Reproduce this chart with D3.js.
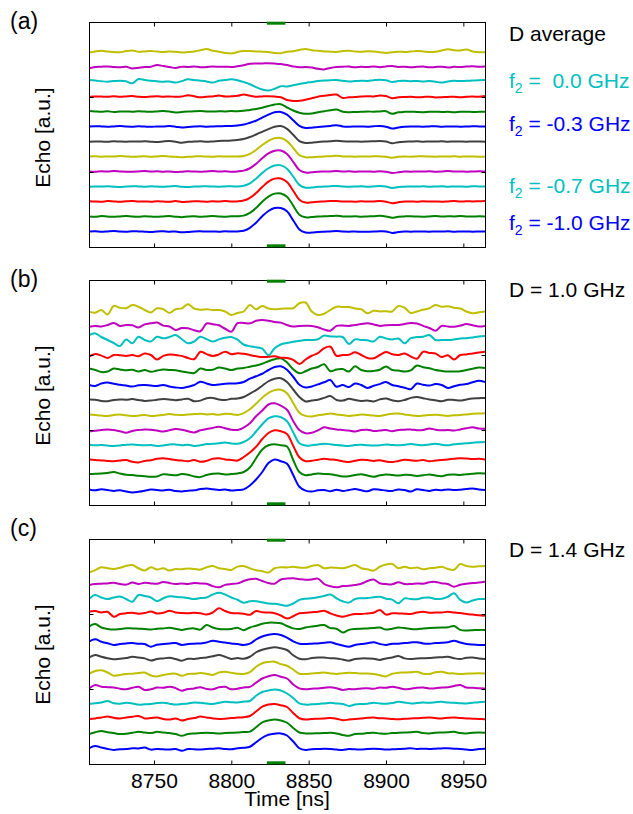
<!DOCTYPE html>
<html>
<head>
<meta charset="utf-8">
<script src="https://cdn.jsdelivr.net/npm/d3@7"></script>
<style>
  body { margin: 0; background: #fff; }
  svg { display: block; }
  text { font-family: "Liberation Sans", Arial, sans-serif; fill: #000; }
</style>
</head>
<body>
<svg id="chart" width="633" height="814"></svg>
<script>
// Sample times of every echo trace (ns)
const timeNs = [
  8708, 8712, 8716, 8720, 8724, 8728, 8732, 8736, 8740, 8744,
  8748, 8752, 8756, 8760, 8764, 8768, 8772, 8776, 8780, 8784,
  8788, 8792, 8796, 8800, 8804, 8808, 8812, 8816, 8820, 8824,
  8828, 8832, 8836, 8840, 8844, 8848, 8852, 8856, 8860, 8864,
  8868, 8872, 8876, 8880, 8884, 8888, 8892, 8896, 8900, 8904,
  8908, 8912, 8916, 8920, 8924, 8928, 8932, 8936, 8940, 8944,
  8948, 8952, 8956, 8960, 8964
];

// Trace colours, bottom trace first
const traceColors = ["#0000FF", "#008000", "#FF0000", "#00BFBF", "#BF00BF", "#BFBF00", "#404040",
                     "#0000FF", "#008000", "#FF0000", "#00BFBF", "#BF00BF", "#BFBF00"];
// Vertical offset of each trace (bottom trace first)
const traceOffsets = [1, 2, 3, 4, 5, 6, 7, 8, 9, 10, 11, 12, 13];

const xDomain = [8708, 8964];
const yDomain = [0, 15];
const xTicks = [8750, 8800, 8850, 8900, 8950];
const yTicks = [5, 10];
const pulseWindow = [8823, 8835];

const panelLetters = ["(a)", "(b)", "(c)"];
const panelTitles = ["D average", "D = 1.0 GHz", "D = 1.4 GHz"];
const legendValues = [" 0.0", "-0.3", "-0.7", "-1.0"];
const legendTraces = [10, 7, 3, 0];

// (a) detuning-averaged echoes
const echoA = [
  [0.03, 0.05, 0.02, 0.04, 0.06, 0.03, 0.02, 0.05, 0.04, 0.02,
   0.0, 0.04, 0.05, 0.02, 0.03, -0.02, 0.0, 0.04, 0.05, 0.03,
   0.04, 0.02, 0.05, 0.03, 0.04, 0.08, 0.28, 0.62, 1.05, 1.4,
   1.6, 1.6, 1.38, 0.78, 0.17, -0.03, -0.04, 0.0, 0.02, 0.04,
   0.06, 0.03, 0.02, 0.03, 0.01, 0.02, 0.03, 0.05, 0.04, -0.06,
   0.0, 0.03, 0.02, 0.04, 0.03, 0.02, 0.04, 0.03, 0.05, 0.02,
   0.03, 0.04, 0.02, 0.03, 0.04],
  [0.04, 0.02, 0.06, 0.03, 0.01, 0.04, 0.07, 0.03, 0.02, 0.05,
   0.03, 0.01, 0.04, 0.06, 0.02, -0.01, 0.03, 0.05, 0.02, 0.04,
   0.06, 0.03, 0.02, 0.05, 0.05, 0.09, 0.27, 0.6, 1.02, 1.36,
   1.56, 1.57, 1.35, 0.76, 0.15, -0.02, 0.0, 0.03, 0.05, 0.06,
   0.08, 0.04, 0.03, 0.05, 0.02, 0.04, 0.05, 0.08, 0.04, -0.05,
   0.02, 0.04, 0.05, 0.03, 0.02, 0.04, 0.06, 0.03, 0.05, 0.04,
   0.06, 0.04, 0.03, 0.05, 0.04],
  [0.05, 0.03, 0.02, 0.06, 0.04, 0.02, 0.05, 0.07, 0.03, 0.04,
   0.02, 0.05, 0.03, 0.01, 0.06, 0.0, 0.02, 0.05, 0.04, 0.02,
   0.05, 0.03, 0.06, 0.03, 0.04, 0.1, 0.28, 0.6, 1.0, 1.36,
   1.56, 1.57, 1.33, 0.75, 0.15, -0.04, -0.02, 0.02, 0.04, 0.07,
   0.06, 0.03, 0.04, 0.02, 0.05, 0.03, 0.04, 0.06, 0.02, -0.08,
   -0.02, 0.03, 0.04, 0.02, 0.05, 0.03, 0.04, 0.02, 0.04, 0.06,
   0.03, 0.05, 0.04, 0.05, 0.06],
  [0.02, 0.04, 0.03, 0.05, 0.02, 0.0, 0.03, 0.05, 0.04, 0.02,
   0.05, 0.03, 0.01, 0.04, 0.06, 0.02, 0.0, 0.03, 0.04, 0.05,
   0.03, 0.02, 0.04, 0.05, 0.03, 0.08, 0.24, 0.55, 0.94, 1.25,
   1.43, 1.44, 1.22, 0.7, 0.14, -0.05, -0.03, 0.01, 0.03, 0.05,
   0.07, 0.04, 0.02, 0.03, 0.05, 0.02, 0.04, 0.06, 0.03, -0.06,
   0.0, 0.02, 0.04, 0.03, 0.05, 0.02, 0.03, 0.05, 0.02, 0.04,
   0.03, 0.02, 0.05, 0.04, 0.03],
  [0.04, 0.02, 0.05, 0.03, 0.06, 0.04, 0.02, 0.01, 0.04, 0.06,
   0.03, 0.05, 0.02, 0.04, 0.0, 0.02, 0.05, 0.03, 0.02, 0.04,
   0.06, 0.03, 0.05, 0.02, 0.04, 0.09, 0.25, 0.54, 0.92, 1.24,
   1.42, 1.43, 1.2, 0.68, 0.13, -0.04, -0.02, 0.02, 0.03, 0.04,
   0.06, 0.03, 0.05, 0.02, 0.03, 0.04, 0.02, 0.05, 0.02, -0.07,
   -0.02, 0.03, 0.02, 0.04, 0.03, 0.05, 0.02, 0.03, 0.06, 0.03,
   0.04, 0.02, 0.03, 0.05, 0.03],
  [0.03, 0.05, 0.02, 0.04, 0.03, 0.06, 0.04, 0.01, 0.03, 0.05,
   0.02, 0.04, 0.06, 0.03, 0.01, -0.02, 0.02, 0.04, 0.05, 0.03,
   0.02, 0.05, 0.03, 0.04, 0.03, 0.07, 0.21, 0.47, 0.8, 1.08,
   1.25, 1.26, 1.06, 0.6, 0.12, -0.02, -0.01, 0.02, 0.04, 0.05,
   0.08, 0.04, 0.03, 0.02, 0.04, 0.03, 0.05, 0.04, 0.02, -0.05,
   0.01, 0.03, 0.02, 0.04, 0.05, 0.03, 0.02, 0.04, 0.03, 0.05,
   0.02, 0.04, 0.03, 0.02, 0.04],
  [0.02, 0.04, 0.03, 0.01, 0.05, 0.03, 0.02, 0.04, 0.03, 0.05,
   0.02, 0.0, 0.04, 0.06, 0.02, -0.05, 0.01, 0.03, 0.05, 0.02,
   0.04, 0.07, 0.08, 0.1, 0.14, 0.2, 0.33, 0.5, 0.68, 0.86,
   1.02, 1.06, 0.88, 0.48, 0.06, -0.06, -0.05, 0.0, 0.03, 0.05,
   0.09, 0.05, 0.03, 0.04, 0.02, 0.04, 0.05, 0.06, 0.03, -0.08,
   -0.01, 0.02, 0.03, 0.05, 0.02, 0.04, 0.03, 0.05, 0.02, 0.04,
   0.03, 0.02, 0.04, 0.03, 0.02],
  [0.03, 0.05, 0.04, 0.02, 0.04, 0.06, 0.03, 0.02, 0.05, 0.03,
   0.01, 0.04, 0.03, 0.06, 0.02, -0.04, 0.0, 0.03, 0.05, 0.02,
   0.04, 0.05, 0.06, 0.07, 0.1, 0.16, 0.28, 0.42, 0.62, 0.82,
   0.98, 1.0, 0.82, 0.45, 0.08, -0.06, -0.05, 0.0, 0.04, 0.07,
   0.12, 0.04, 0.02, 0.03, 0.04, 0.02, 0.05, 0.07, 0.02, -0.1,
   -0.03, 0.02, 0.04, 0.03, 0.02, 0.04, 0.05, 0.02, 0.03, 0.04,
   0.02, 0.03, 0.05, 0.04, 0.03],
  [0.06, 0.04, 0.02, 0.05, 0.0, 0.03, 0.04, 0.02, 0.05, 0.03,
   0.01, 0.04, 0.06, 0.03, -0.03, 0.0, 0.03, 0.05, 0.06, 0.04,
   0.03, 0.05, 0.04, 0.06, 0.05, 0.08, 0.14, 0.2, 0.28, 0.4,
   0.5, 0.52, 0.3, 0.1, -0.05, -0.12, -0.1, -0.02, 0.05, 0.12,
   0.16, 0.02, -0.01, 0.0, 0.01, 0.03, 0.02, 0.04, 0.05, -0.12,
   -0.02, 0.01, 0.02, 0.0, -0.01, 0.01, 0.02, 0.0, 0.01, -0.02,
   0.01, 0.02, 0.0, 0.01, 0.02],
  [0.02, 0.04, 0.03, 0.01, 0.05, 0.02, 0.04, 0.06, 0.02, 0.0,
   0.03, 0.05, 0.02, 0.04, 0.01, 0.03, 0.12, 0.05, -0.02, 0.02,
   0.04, 0.1, 0.03, 0.05, 0.08, 0.16, 0.08, 0.02, 0.04, 0.05,
   0.03, -0.02, -0.2, -0.26, -0.25, -0.18, -0.08, 0.02, 0.08, 0.14,
   0.16, -0.06, -0.02, 0.0, 0.03, 0.05, 0.04, 0.1, 0.06, -0.08,
   -0.02, 0.0, 0.01, -0.02, 0.0, 0.02, -0.03, -0.01, 0.0, 0.02,
   -0.02, 0.01, 0.03, 0.02, 0.06],
  [0.13, 0.1, 0.05, 0.02, 0.06, 0.09, 0.05, -0.09, 0.2, 0.14,
   0.09, 0.05, 0.02, 0.04, -0.04, 0.06, 0.18, 0.13, 0.09, 0.04,
   -0.04, 0.08, 0.13, 0.18, 0.12, 0.0, -0.15, -0.34, -0.5, -0.56,
   -0.45, -0.28, -0.3, -0.22, -0.13, -0.06, 0.0, 0.06, 0.1, 0.12,
   0.13, 0.08, 0.04, 0.06, 0.09, 0.07, 0.12, 0.15, 0.11, 0.0,
   0.06, 0.08, 0.05, 0.07, 0.03, 0.06, 0.02, -0.04, 0.04, 0.08,
   0.06, 0.08, 0.1, 0.12, 0.13],
  [-0.09, 0.0, 0.02, 0.04, 0.0, -0.02, 0.02, -0.1, -0.05, 0.0,
   0.02, 0.13, 0.06, 0.0, -0.06, 0.02, 0.0, 0.04, -0.02, 0.0,
   0.03, 0.01, 0.02, 0.0, 0.05, 0.12, 0.22, 0.24, 0.24, 0.25,
   0.23, 0.2, 0.13, 0.04, -0.02, 0.0, -0.04, -0.12, -0.16, -0.06,
   0.0, 0.02, 0.03, -0.02, 0.01, 0.0, 0.03, -0.01, 0.04, 0.06,
   0.0, 0.02, -0.01, 0.01, 0.03, -0.02, 0.0, 0.02, -0.03, 0.01,
   0.0, 0.03, 0.05, 0.02, 0.04],
  [-0.04, 0.04, 0.08, 0.03, 0.0, -0.02, 0.06, 0.1, 0.02, 0.04,
   0.06, 0.03, 0.0, 0.04, 0.01, -0.03, 0.0, 0.04, 0.12, 0.2,
   0.08, 0.02, -0.06, -0.1, 0.0, 0.06, 0.07, 0.04, 0.02, 0.0,
   -0.06, -0.08, 0.02, 0.05, 0.14, 0.2, 0.12, 0.08, 0.04, 0.02,
   0.0, 0.06, 0.08, 0.04, 0.02, 0.05, 0.03, -0.01, -0.06, -0.02,
   0.02, 0.0, 0.03, 0.06, 0.04, 0.0, 0.02, 0.1, 0.18, 0.12,
   0.1, 0.16, 0.04, -0.01, -0.02]
];

// (b) D = 1.0 GHz
const echoB = [
  [0.04, -0.02, 0.05, 0.0, -0.06, -0.02, -0.1, -0.16, -0.12, -0.05,
   0.04, 0.0, -0.03, 0.02, -0.07, -0.1, -0.05, -0.02, 0.06, 0.1,
   0.05, 0.0, 0.03, -0.04, 0.0, 0.04, 0.3, 0.7, 1.2, 1.8,
   2.04, 1.92, 1.75, 1.0, 0.22, -0.04, -0.1, -0.02, 0.0, -0.08,
   0.02, -0.06, 0.0, 0.06, -0.02, -0.08, 0.05, 0.02, -0.04, -0.06,
   0.04, 0.0, -0.1, 0.05, 0.0, -0.06, 0.02, -0.02, 0.04, 0.0,
   0.02, 0.06, 0.1, 0.04, 0.0],
  [0.06, 0.08, 0.1, 0.14, 0.2, 0.1, 0.02, 0.0, -0.05, -0.08,
   -0.12, -0.1, 0.05, 0.02, -0.02, 0.06, 0.02, -0.1, -0.14, 0.0,
   0.08, 0.1, 0.04, 0.06, 0.1, 0.2, 0.5, 1.12, 1.7, 1.98,
   2.05, 1.98, 1.9, 1.0, 0.2, -0.02, 0.04, 0.1, 0.07, 0.05,
   -0.02, -0.1, -0.08, 0.0, 0.05, -0.04, -0.12, -0.02, 0.04, 0.0,
   -0.04, 0.02, 0.0, -0.06, -0.02, 0.04, -0.04, -0.08, 0.02, 0.04,
   0.0, 0.05, 0.08, 0.12, 0.1],
  [0.04, 0.0, -0.03, -0.06, -0.08, -0.04, 0.0, -0.12, -0.16, -0.06,
   -0.02, 0.08, 0.12, 0.06, 0.0, -0.04, -0.08, 0.0, -0.12, -0.06,
   0.08, 0.12, 0.04, 0.0, -0.04, 0.2, 0.5, 0.88, 1.4, 1.8,
   1.98, 1.92, 1.74, 0.95, 0.18, -0.08, -0.05, 0.02, 0.08, 0.04,
   0.0, -0.08, -0.14, -0.05, 0.02, 0.0, -0.06, -0.02, -0.1, -0.14,
   -0.06, 0.02, -0.02, -0.05, 0.0, -0.08, -0.04, 0.0, 0.04, 0.08,
   0.12, 0.1, 0.06, 0.08, 0.04],
  [0.02, -0.02, 0.0, -0.04, -0.06, -0.03, 0.02, 0.04, 0.0, -0.02,
   0.0, -0.06, -0.04, 0.03, 0.04, -0.02, 0.02, -0.06, -0.02, 0.06,
   0.08, 0.12, 0.16, 0.1, 0.08, 0.2, 0.45, 0.9, 1.38, 1.78,
   1.92, 1.86, 1.58, 0.85, 0.12, -0.04, -0.02, 0.04, 0.08, 0.05,
   0.0, -0.04, -0.06, 0.0, 0.02, -0.02, -0.04, -0.02, 0.04, 0.0,
   -0.02, 0.02, 0.06, 0.02, -0.02, 0.04, 0.08, 0.02, -0.02, 0.05,
   0.08, 0.12, 0.15, 0.18, 0.2],
  [-0.1, -0.05, 0.0, 0.04, 0.0, -0.08, -0.18, -0.06, 0.0, 0.04,
   0.02, -0.04, -0.1, -0.02, 0.06, 0.02, -0.08, -0.16, -0.02, 0.06,
   0.14, 0.22, 0.12, 0.02, 0.0, 0.16, 0.45, 0.92, 1.3, 1.7,
   1.78, 1.62, 1.35, 0.6, 0.0, -0.22, -0.18, -0.02, 0.18, 0.1,
   0.04, 0.0, -0.04, -0.1, 0.0, 0.02, -0.06, -0.04, 0.0, -0.08,
   0.0, 0.02, 0.04, -0.02, 0.0, 0.1, 0.02, -0.02, 0.0, -0.04,
   0.04, 0.12, 0.18, 0.1, 0.08],
  [0.04, 0.0, -0.04, -0.06, 0.0, 0.04, -0.02, -0.06, -0.04, 0.0,
   -0.06, -0.04, 0.0, 0.06, 0.02, 0.0, 0.04, 0.06, 0.08, 0.04,
   0.06, 0.02, 0.08, 0.06, 0.0, 0.12, 0.38, 0.75, 1.15, 1.48,
   1.66, 1.68, 1.45, 0.8, 0.15, -0.06, -0.1, -0.02, 0.04, 0.1,
   0.04, 0.0, -0.06, -0.02, 0.04, 0.0, -0.04, -0.06, 0.02, 0.08,
   0.1, 0.04, -0.02, -0.06, -0.04, 0.0, 0.02, -0.02, -0.06, -0.02,
   0.0, 0.04, 0.08, 0.1, 0.12],
  [0.04, 0.02, -0.06, -0.08, 0.0, 0.04, 0.02, 0.06, 0.0, -0.06,
   -0.04, 0.02, 0.06, 0.04, -0.02, 0.04, 0.08, -0.08, -0.04, 0.12,
   0.14, 0.04, 0.0, 0.08, 0.1, 0.2, 0.42, 0.66, 0.95, 1.25,
   1.42, 1.45, 1.2, 0.7, 0.2, -0.1, -0.04, 0.02, 0.14, 0.26,
   0.0, -0.04, 0.08, 0.0, -0.06, -0.04, -0.1, 0.04, 0.1, -0.02,
   -0.08, 0.0, 0.14, 0.2, 0.12, 0.04, -0.02, -0.08, 0.02, 0.0,
   -0.04, 0.04, 0.1, 0.12, 0.14],
  [0.0, -0.06, 0.1, 0.16, 0.08, 0.02, -0.04, -0.1, -0.02, 0.0,
   -0.04, -0.06, 0.0, -0.1, -0.16, -0.2, -0.12, 0.0, 0.22, 0.1,
   0.0, 0.04, 0.08, 0.1, 0.12, 0.2, 0.42, 0.58, 0.75, 1.0,
   1.2, 1.25, 1.02, 0.55, 0.02, -0.16, -0.1, 0.04, 0.18, 0.33,
   -0.12, 0.0, -0.14, 0.1, 0.0, -0.2, -0.05, 0.06, 0.2, 0.0,
   -0.08, -0.18, -0.28, 0.1, 0.02, -0.04, 0.06, 0.0, -0.2, -0.08,
   0.02, 0.06, 0.18, 0.28, 0.2],
  [0.1, 0.0, -0.14, -0.1, 0.1, 0.04, -0.02, 0.02, -0.1, 0.0,
   -0.12, -0.04, 0.04, 0.0, -0.02, -0.1, -0.16, -0.2, 0.1, 0.0,
   0.02, 0.16, 0.1, 0.0, 0.1, 0.14, 0.22, 0.3, 0.42, 0.58,
   0.72, 0.78, 0.5, 0.05, -0.22, -0.08, 0.1, 0.2, 0.38, -0.08,
   0.04, 0.06, -0.1, 0.25, 0.0, -0.08, -0.06, 0.02, 0.24, 0.0,
   -0.04, -0.1, -0.02, 0.3, 0.18, 0.12, 0.0, -0.06, -0.1, -0.1,
   -0.08, 0.0, 0.08, 0.16, 0.14],
  [-0.1, 0.06, -0.04, -0.2, 0.0, -0.02, -0.06, 0.0, -0.08, 0.1,
   0.0, -0.3, -0.06, 0.04, 0.0, -0.06, -0.2, -0.28, 0.22, 0.06,
   -0.06, 0.04, 0.22, 0.05, 0.12, 0.08, 0.0, -0.08, -0.14, -0.12,
   -0.08, -0.18, -0.2, -0.32, -0.6, -0.3, -0.05, 0.12, 0.45, 0.55,
   -0.05, 0.0, 0.02, 0.18, 0.0, -0.2, -0.22, 0.0, 0.2, 0.05,
   0.0, 0.1, -0.1, -0.25, 0.22, 0.14, 0.1, -0.14, -0.02, -0.3,
   0.0, 0.04, 0.1, 0.16, 0.22],
  [0.33, 0.44, 0.2, 0.0, -0.2, -0.4, 0.04, -0.22, 0.22, 0.0,
   -0.1, 0.22, 0.11, 0.2, 0.33, 0.05, -0.22, -0.1, 0.22, 0.06,
   -0.1, 0.04, 0.15, 0.2, 0.02, -0.3, -0.42, -0.48, -0.58, -1.02,
   -0.55, -0.3, -0.2, -0.12, -0.05, 0.0, 0.0, 0.05, 0.3, 0.24,
   0.22, 0.2, -0.27, 0.04, 0.0, -0.02, -0.1, 0.22, 0.1, 0.04,
   0.1, -0.22, 0.12, 0.2, 0.22, 0.33, 0.0, 0.0, 0.0, 0.04,
   0.1, 0.12, 0.16, 0.24, 0.27],
  [-0.11, -0.06, -0.1, 0.0, 0.14, -0.06, 0.0, -0.02, -0.16, 0.04,
   0.11, 0.16, -0.04, -0.1, -0.33, -0.2, -0.22, -0.35, -0.42, 0.1,
   0.05, -0.02, -0.25, -0.44, 0.12, 0.14, 0.11, 0.28, 0.33, 0.29,
   0.2, 0.16, 0.0, -0.1, -0.06, -0.05, -0.06, -0.15, -0.3, -0.38,
   -0.06, -0.04, -0.06, 0.0, 0.06, 0.11, 0.04, -0.06, -0.02, 0.0,
   0.0, 0.06, 0.14, 0.1, -0.06, -0.2, -0.38, -0.06, -0.1, -0.12,
   -0.04, 0.06, -0.02, -0.1, -0.06],
  [-0.11, -0.18, 0.0, -0.3, 0.27, 0.15, 0.12, 0.33, 0.22, 0.0,
   -0.16, 0.11, 0.05, -0.2, 0.05, 0.11, 0.38, 0.1, 0.02, 0.05,
   0.0, 0.0, -0.1, -0.33, -0.2, -0.1, 0.33, 0.05, 0.27, 0.1,
   0.05, 0.08, 0.1, 0.12, 0.45, 0.5, -0.1, -0.33, -0.25, 0.0,
   0.22, 0.2, 0.2, 0.1, 0.05, -0.22, -0.05, -0.1, -0.08, -0.1,
   0.27, 0.15, -0.2, -0.1, 0.02, 0.12, 0.33, 0.22, 0.25, 0.15,
   0.1, -0.1, -0.22, -0.15, -0.1]
];

// (c) D = 1.4 GHz
const echoC = [
  [0.05, 0.2, 0.1, 0.0, -0.06, -0.02, 0.0, 0.05, 0.04, 0.1,
   -0.04, 0.0, -0.02, -0.04, 0.0, -0.12, 0.0, -0.02, -0.04, 0.0,
   0.02, 0.05, 0.0, -0.02, 0.05, 0.08, 0.15, 0.45, 0.75, 0.95,
   1.02, 1.04, 0.9, 0.5, 0.05, -0.06, -0.02, 0.0, 0.02, 0.0,
   -0.04, -0.06, 0.0, -0.02, -0.04, 0.0, 0.02, 0.0, -0.04, -0.02,
   0.0, 0.02, 0.05, 0.0, 0.02, 0.0, 0.02, 0.04, 0.05, 0.02,
   0.0, -0.04, -0.06, 0.0, 0.02],
  [0.0, 0.12, 0.2, 0.12, 0.06, 0.0, 0.02, 0.08, 0.15, 0.1,
   0.06, 0.15, 0.1, 0.06, 0.0, -0.12, 0.0, 0.04, 0.06, 0.08,
   0.06, 0.04, 0.06, 0.08, 0.1, 0.14, 0.16, 0.45, 0.78, 0.9,
   0.97, 0.9, 0.75, 0.4, 0.1, 0.04, 0.04, 0.05, 0.06, 0.08,
   0.04, -0.06, -0.12, 0.0, 0.02, 0.06, 0.08, 0.04, 0.02, 0.06,
   0.08, 0.1, 0.12, 0.15, 0.06, 0.04, 0.08, 0.1, 0.12, 0.15,
   0.06, 0.04, 0.08, 0.1, 0.08],
  [0.0, 0.04, 0.1, 0.16, 0.08, 0.04, 0.1, 0.15, 0.2, 0.04,
   0.06, 0.1, 0.0, -0.04, 0.04, -0.1, 0.0, 0.06, 0.16, 0.1,
   0.04, 0.0, 0.02, 0.06, 0.1, 0.12, 0.2, 0.5, 0.82, 0.96,
   1.0, 0.92, 0.8, 0.4, 0.05, -0.04, 0.0, 0.02, 0.04, 0.06,
   0.02, -0.08, -0.04, 0.0, 0.04, 0.08, 0.1, 0.05, 0.04, 0.0,
   -0.02, 0.02, 0.04, 0.05, 0.08, 0.1, 0.06, 0.04, 0.08, 0.1,
   0.06, 0.04, 0.02, 0.0, -0.02],
  [0.0, 0.05, 0.1, 0.2, 0.05, 0.02, 0.08, 0.04, -0.04, -0.02,
   0.0, 0.06, 0.08, 0.02, -0.04, 0.0, 0.04, 0.1, 0.08, 0.04,
   0.0, 0.08, 0.15, 0.12, 0.1, 0.16, 0.2, 0.55, 0.8, 0.9,
   0.96, 0.9, 0.7, 0.4, 0.04, -0.04, -0.02, 0.0, 0.04, 0.08,
   0.04, 0.0, -0.13, -0.04, 0.0, 0.02, 0.08, 0.04, 0.02, 0.06,
   0.15, 0.1, 0.04, 0.06, 0.1, 0.08, 0.12, 0.15, 0.1, 0.08,
   0.05, 0.04, 0.08, 0.12, 0.15],
  [0.04, 0.27, 0.15, 0.12, 0.1, 0.02, -0.02, 0.08, 0.15, -0.06,
   -0.02, 0.1, 0.08, 0.15, 0.06, -0.11, 0.0, 0.04, 0.12, 0.0,
   -0.02, 0.12, 0.15, -0.02, 0.02, 0.1, 0.14, 0.42, 0.7, 0.85,
   0.93, 0.82, 0.7, 0.3, 0.04, -0.02, 0.02, 0.04, 0.08, 0.12,
   0.05, -0.06, 0.0, -0.02, 0.04, 0.05, 0.02, 0.1, 0.08, 0.15,
   0.08, -0.02, 0.02, 0.08, 0.1, 0.04, 0.05, 0.1, 0.12, 0.2,
   0.27, 0.1, 0.08, 0.05, 0.04],
  [0.0, 0.2, 0.25, 0.1, -0.12, -0.06, 0.0, 0.02, 0.06, 0.1,
   -0.1, -0.16, -0.06, 0.0, 0.02, -0.12, 0.0, 0.02, 0.06, 0.02,
   -0.06, 0.1, 0.15, 0.08, 0.02, 0.0, 0.12, 0.48, 0.72, 0.8,
   0.82, 0.66, 0.55, 0.3, 0.02, 0.0, 0.04, 0.06, 0.1, 0.04,
   0.0, 0.05, 0.08, 0.06, 0.03, 0.04, 0.0, -0.08, -0.16, 0.02,
   0.08, 0.1, 0.12, 0.15, 0.02, 0.0, 0.12, 0.15, 0.05, 0.04,
   0.0, 0.02, 0.04, 0.05, 0.04],
  [0.1, 0.27, 0.15, 0.05, -0.02, 0.02, 0.06, 0.15, 0.1, 0.04,
   -0.1, 0.0, 0.04, 0.08, 0.0, -0.11, 0.02, 0.0, 0.06, 0.1,
   0.18, 0.27, 0.15, 0.0, 0.06, 0.02, 0.15, 0.45, 0.62, 0.72,
   0.78, 0.72, 0.6, 0.25, 0.02, -0.02, 0.06, 0.1, 0.1, 0.05,
   0.04, -0.04, -0.11, 0.0, 0.04, 0.04, 0.02, -0.06, 0.04, 0.1,
   0.2, 0.04, 0.0, 0.04, 0.05, 0.06, 0.1, 0.12, 0.15, 0.05,
   0.0, 0.08, 0.1, 0.04, 0.0],
  [0.16, 0.31, 0.15, 0.05, -0.06, 0.0, 0.04, 0.06, 0.02, 0.0,
   -0.18, -0.05, 0.0, 0.04, 0.06, -0.06, 0.0, 0.02, 0.04, 0.1,
   0.22, 0.15, 0.1, 0.04, 0.0, -0.06, 0.02, 0.3, 0.5, 0.62,
   0.67, 0.6, 0.42, 0.18, 0.02, 0.0, 0.02, 0.04, 0.08, 0.12,
   0.0, -0.1, -0.18, -0.06, 0.0, 0.05, 0.12, 0.0, -0.06, 0.02,
   0.02, 0.06, 0.1, 0.12, 0.04, 0.02, 0.06, 0.08, 0.12, 0.22,
   0.1, 0.0, -0.04, -0.06, -0.06],
  [0.16, 0.33, 0.1, 0.0, -0.04, 0.0, 0.05, 0.04, 0.02, 0.0,
   -0.04, 0.02, 0.04, 0.08, 0.02, -0.06, 0.02, 0.04, -0.04, 0.27,
   0.1, 0.0, -0.02, 0.0, 0.08, -0.08, 0.1, 0.22, 0.35, 0.42,
   0.42, 0.38, 0.2, 0.04, 0.0, 0.1, 0.16, 0.22, 0.27, 0.06,
   0.02, -0.24, -0.06, 0.0, 0.02, 0.04, 0.06, 0.1, -0.04, 0.02,
   0.1, 0.06, 0.0, -0.02, 0.04, 0.06, 0.08, 0.1, 0.12, 0.2,
   -0.06, -0.1, -0.08, -0.06, -0.06],
  [0.16, 0.2, 0.1, 0.15, -0.18, 0.0, 0.05, 0.08, 0.02, 0.06,
   0.16, 0.04, 0.08, 0.22, 0.1, 0.06, 0.05, 0.08, 0.05, -0.04,
   0.1, 0.38, 0.2, 0.06, 0.05, 0.02, -0.05, 0.2, 0.12, 0.1,
   0.05, -0.1, -0.3, -0.15, 0.05, 0.08, 0.12, 0.15, 0.22, 0.04,
   -0.1, -0.18, -0.08, 0.0, 0.0, 0.04, 0.08, 0.27, -0.04, 0.05,
   0.04, 0.02, 0.0, 0.1, 0.15, 0.08, 0.1, 0.1, 0.15, 0.1,
   0.06, 0.0, -0.04, -0.08, -0.12],
  [0.0, 0.27, 0.1, 0.0, 0.1, 0.16, 0.0, -0.18, 0.27, 0.2,
   0.1, -0.15, 0.05, 0.18, 0.15, 0.12, 0.06, 0.0, 0.06, 0.1,
   0.3, 0.42, 0.3, 0.1, -0.05, -0.25, -0.15, -0.15, -0.22, -0.3,
   -0.32, -0.38, -0.45, -0.3, -0.06, 0.02, 0.05, 0.12, 0.2, 0.3,
   0.05, -0.15, -0.24, 0.0, 0.05, 0.06, 0.12, 0.15, 0.02, -0.04,
   -0.29, 0.04, 0.0, -0.02, 0.08, 0.1, 0.0, 0.02, 0.15, 0.38,
   -0.06, -0.24, -0.1, 0.0, 0.0],
  [-0.06, 0.0, 0.02, 0.04, 0.08, 0.0, -0.04, 0.1, 0.0, 0.08,
   0.04, 0.02, 0.14, 0.06, 0.0, 0.04, 0.0, 0.06, 0.04, 0.02,
   -0.14, -0.22, -0.06, 0.0, 0.04, 0.2, 0.32, 0.35, 0.2, 0.06,
   0.02, 0.3, 0.36, 0.38, 0.32, 0.28, 0.3, 0.36, 0.0, -0.15,
   -0.22, -0.14, -0.12, -0.06, 0.02, 0.2, 0.3, 0.05, 0.0, -0.02,
   0.12, 0.0, 0.0, 0.04, 0.02, 0.12, 0.14, 0.05, 0.0, -0.18,
   -0.05, 0.02, 0.06, 0.1, 0.15],
  [-0.24, -0.08, 0.12, 0.05, 0.0, 0.08, 0.2, 0.27, 0.05, -0.1,
   0.12, -0.04, 0.05, -0.1, 0.0, -0.02, 0.04, 0.0, -0.04, 0.12,
   0.2, 0.05, 0.0, -0.06, 0.16, 0.2, 0.05, -0.08, -0.15, -0.24,
   0.05, 0.12, 0.1, 0.15, 0.1, 0.08, 0.2, 0.27, 0.05, 0.1,
   0.08, 0.05, 0.15, 0.27, 0.05, -0.02, -0.11, 0.15, 0.3, 0.33,
   0.05, 0.15, 0.05, 0.1, -0.02, 0.05, 0.08, 0.15, 0.0, -0.05,
   0.33, 0.2, 0.15, 0.18, 0.2]
];

const panelData = [echoA, echoB, echoC];

// ---- layout ----
const plotLeft = 89, plotWidth = 396, plotHeight = 225;
const panelTops = [22, 280, 539];
const letterBaselines = [29, 287, 535.5];
const titleBaselines = [40.7, 296.7, 557];
const legendBaselines = [88.3, 130.5, 192.5, 230];
const tickLabelBaseline = 788;
const xLabelBaseline = 805.5;
const textLeft = 509;
const fontSize = 21;

const svg = d3.select("#chart");

const x = d3.scaleLinear().domain(xDomain).range([plotLeft, plotLeft + plotWidth]);

panelData.forEach((traces, p) => {
  const top = panelTops[p];
  const y = d3.scaleLinear().domain(yDomain).range([top + plotHeight, top]);
  const g = svg.append("g").attr("class", "panel");

  const clipId = "clip" + p;
  g.append("clipPath").attr("id", clipId)
    .append("rect")
    .attr("x", plotLeft).attr("y", top)
    .attr("width", plotWidth).attr("height", plotHeight);

  const line = d3.line()
    .x((d, i) => x(timeNs[i]))
    .curve(d3.curveCatmullRom.alpha(0.5));

  const traceG = g.append("g").attr("clip-path", `url(#${clipId})`);
  traces.forEach((vals, k) => {
    const off = traceOffsets[k];
    traceG.append("path")
      .datum(vals)
      .attr("fill", "none")
      .attr("stroke", traceColors[k])
      .attr("stroke-width", 2)
      .attr("stroke-linejoin", "round")
      .attr("d", line.y(v => y(v + off)));
  });

  // box frame
  g.append("rect")
    .attr("x", plotLeft + 0.5).attr("y", top + 0.5)
    .attr("width", plotWidth).attr("height", plotHeight)
    .attr("fill", "none").attr("stroke", "#000").attr("stroke-width", 1);

  // inward ticks on all four sides
  const tl = 4;
  const axisBottom = d3.axisBottom(x).tickValues(xTicks).tickSizeInner(-tl).tickSizeOuter(0)
    .tickFormat(p === 2 ? d3.format("d") : () => "");
  const axisTop = d3.axisTop(x).tickValues(xTicks).tickSizeInner(-tl).tickSizeOuter(0).tickFormat(() => "");
  const axisLeft = d3.axisLeft(y).tickValues(yTicks).tickSizeInner(-tl).tickSizeOuter(0).tickFormat(() => "");
  const axisRight = d3.axisRight(y).tickValues(yTicks).tickSizeInner(-tl).tickSizeOuter(0).tickFormat(() => "");

  const styleAxis = sel => {
    sel.select(".domain").remove();
    sel.selectAll(".tick line").attr("stroke", "#000");
  };
  const bottomY = top + plotHeight + 0.5;
  const gb = g.append("g").attr("transform", `translate(0,${bottomY})`).call(axisBottom).call(styleAxis);
  gb.selectAll(".tick text")
    .attr("y", tickLabelBaseline - bottomY).attr("dy", null)
    .attr("font-size", fontSize)
    .attr("font-family", '"Liberation Sans", Arial, sans-serif')
    .attr("fill", "#000");
  g.append("g").attr("transform", `translate(0,${top + 0.5})`).call(axisTop).call(styleAxis);
  g.append("g").attr("transform", `translate(${plotLeft + 0.5},0)`).call(axisLeft).call(styleAxis);
  g.append("g").attr("transform", `translate(${plotLeft + plotWidth + 0.5},0)`).call(axisRight).call(styleAxis);

  // pulse window markers at top and bottom edges
  [yDomain[1], yDomain[0]].forEach((lim, j) => {
    const yy = y(lim) + (j === 0 ? 1.2 : -1.2);
    g.append("line")
      .attr("x1", x(pulseWindow[0])).attr("x2", x(pulseWindow[1]))
      .attr("y1", yy).attr("y2", yy)
      .attr("stroke", "#008000").attr("stroke-width", 3);
  });

  // y-axis label
  g.append("text")
    .attr("transform", `translate(50,${top + plotHeight / 2 + 3}) rotate(-90)`)
    .attr("text-anchor", "middle")
    .attr("font-size", fontSize)
    .text("Echo [a.u.]");

  // panel letter
  g.append("text")
    .attr("x", 10).attr("y", letterBaselines[p])
    .attr("font-size", 23)
    .text(panelLetters[p]);

  // panel title
  g.append("text")
    .attr("x", textLeft).attr("y", titleBaselines[p])
    .attr("font-size", fontSize)
    .text(panelTitles[p]);
});

// legend for the detuning-averaged panel
legendValues.forEach((val, j) => {
  const col = traceColors[legendTraces[j]];
  const t = svg.append("text")
    .attr("x", textLeft).attr("y", legendBaselines[j])
    .attr("font-size", fontSize)
    .style("white-space", "pre")
    .style("fill", col);
  t.append("tspan").style("fill", col).text("f");
  t.append("tspan").style("fill", col)
    .attr("font-size", 14).attr("dy", 5).text("2");
  t.append("tspan").style("fill", col)
    .attr("dy", -5).text(" = " + val + " GHz");
});

// x-axis label
svg.append("text")
  .attr("x", plotLeft + plotWidth / 2).attr("y", xLabelBaseline)
  .attr("text-anchor", "middle")
  .attr("font-size", fontSize)
  .text("Time [ns]");
</script>
</body>
</html>
